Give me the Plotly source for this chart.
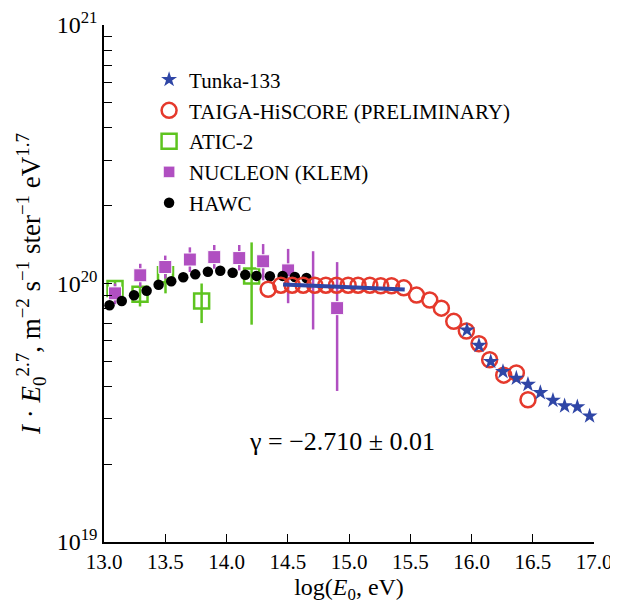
import plotly.graph_objects as go
import math

# ---------------- data ----------------
tunka_x = [15.963, 16.061, 16.157, 16.257, 16.366, 16.461, 16.562, 16.665, 16.760, 16.864, 16.964]
tunka_y = [6.60e19, 5.76e19, 4.99e19, 4.56e19, 4.30e19, 4.07e19, 3.78e19, 3.53e19, 3.36e19, 3.33e19, 3.07e19]

taiga_x = [14.340, 14.444, 14.536, 14.626, 14.721, 14.811, 14.898, 14.993, 15.074, 15.170, 15.259,
           15.347, 15.447, 15.551, 15.659, 15.754, 15.855, 15.958, 16.061, 16.148, 16.263, 16.366, 16.461]
taiga_y = [9.50e19, 9.85e19, 9.85e19, 9.85e19, 9.85e19, 9.85e19, 9.85e19, 9.85e19, 9.85e19, 9.85e19, 9.80e19,
           9.80e19, 9.62e19, 9.02e19, 8.63e19, 8.03e19, 7.14e19, 6.55e19, 5.85e19, 5.07e19, 4.42e19, 4.51e19, 3.55e19]

atic_x = [13.090, 13.294, 13.502, 13.797, 14.205]
atic_y = [9.57e19, 9.08e19, 1.082e20, 8.56e19, 1.07e20]
atic_hi = [1.015e20, 9.6e19, 1.158e20, 1.0e20, 1.442e20]
atic_lo = [9.0e19, 8.15e19, 9.16e19, 7.03e19, 6.93e19]

nucleon_x = [13.090, 13.296, 13.500, 13.701, 13.900, 14.104, 14.299, 14.503, 14.707, 14.903]
nucleon_y = [9.16e19, 1.076e20, 1.158e20, 1.238e20, 1.265e20, 1.254e20, 1.219e20, 1.124e20, 9.85e19, 8.03e19]
nucleon_hi = [1.0e20, 1.192e20, 1.282e20, 1.380e20, 1.409e20, 1.409e20, 1.421e20, 1.361e20, 1.333e20, 1.21e20]
nucleon_lo = [8.31e19, 9.71e19, 1.045e20, 1.108e20, 1.141e20, 1.124e20, 1.029e20, 8.39e19, 6.64e19, 3.84e19]
nucleon_marker_visible = [1, 1, 1, 1, 1, 1, 1, 1, 0, 1]   # point at 14.7 is hidden behind TAIGA circles

hawc_x = [13.045, 13.145, 13.245, 13.348, 13.446, 13.549, 13.647, 13.745, 13.848, 13.949, 14.050,
          14.153, 14.245, 14.354, 14.458, 14.558, 14.653]
hawc_y = [8.24e19, 8.56e19, 9.0e19, 9.38e19, 9.89e19, 1.02e20, 1.057e20, 1.085e20, 1.11e20, 1.12e20, 1.10e20,
          1.08e20, 1.07e20, 1.066e20, 1.07e20, 1.06e20, 1.05e20]

fit_x = [14.462, 15.455]
fit_y = [9.91e19, 9.48e19]

x_ticks = [13.0, 13.5, 14.0, 14.5, 15.0, 15.5, 16.0, 16.5, 17.0]
gamma_text = "γ = −2.710 ± 0.01"

# ---------------- style ----------------
FONT = "Liberation Serif"
C_TUNKA = "#2f46a6"
C_TAIGA = "#e5392c"
C_ATIC = "#5ec41f"
C_NUC = "#b04fc1"

fig = go.Figure()

fig.add_trace(go.Scatter(
    x=atic_x, y=atic_y, mode="markers", name="ATIC-2", legendrank=3, legendgroup="c",
    marker=dict(symbol="square-open", size=15, color=C_ATIC, line=dict(width=2.5, color=C_ATIC)),
    error_y=dict(type="data", symmetric=False,
                 array=[h - v for h, v in zip(atic_hi, atic_y)],
                 arrayminus=[v - l for l, v in zip(atic_lo, atic_y)],
                 color=C_ATIC, thickness=2.5, width=0),
))

fig.add_trace(go.Scatter(
    x=nucleon_x, y=nucleon_y, mode="markers", name="NUCLEON (KLEM)", legendrank=4, legendgroup="d",
    marker=dict(symbol="square", size=[13 * v for v in nucleon_marker_visible], color=C_NUC, opacity=1),
    error_y=dict(type="data", symmetric=False,
                 array=[h - v for h, v in zip(nucleon_hi, nucleon_y)],
                 arrayminus=[v - l for l, v in zip(nucleon_lo, nucleon_y)],
                 color=C_NUC, thickness=2.5, width=0),
))

fig.add_trace(go.Scatter(
    x=hawc_x, y=hawc_y, mode="markers", name="HAWC", legendrank=5, legendgroup="e",
    marker=dict(symbol="circle", size=10.5, color="black"),
))

fig.add_trace(go.Scatter(
    x=taiga_x, y=taiga_y, mode="markers", name="TAIGA-HiSCORE (PRELIMINARY)", legendrank=2, legendgroup="b",
    marker=dict(symbol="circle-open", size=15, color=C_TAIGA, line=dict(width=2.5, color=C_TAIGA)),
))

fig.add_trace(go.Scatter(
    x=fit_x, y=fit_y, mode="lines", showlegend=False,
    line=dict(color=C_TUNKA, width=4),
))

fig.add_trace(go.Scatter(
    x=tunka_x, y=tunka_y, mode="markers", name="Tunka-133", legendrank=1, legendgroup="a",
    marker=dict(symbol="star", size=12, color=C_TUNKA), cliponaxis=False,
))

y_vals, y_text = [], []
for d in [19, 20]:
    for k in range(1, 10):
        y_vals.append(float(k) * 10.0 ** d)
        y_text.append(f"10<sup>{d}</sup>" if k == 1 else "")
y_vals.append(1e21)
y_text.append("10<sup>21</sup>")

fig.add_annotation(x=14.94, y=math.log10(2.45e19), text=gamma_text, showarrow=False,
                   font=dict(family=FONT, size=26, color="black"))

# page body adds an 8 px margin; the figure is sized/margined to compensate
fig.update_layout(
    width=610, height=602,
    margin=dict(l=96, r=23.6, t=17, b=68),
    paper_bgcolor="white", plot_bgcolor="white",
    font=dict(family=FONT, size=21, color="black"),
    showlegend=True,
    legend=dict(x=0.092, y=0.9335, xanchor="left", yanchor="top", bgcolor="rgba(0,0,0,0)",
                font=dict(family=FONT, size=21, color="black"), tracegroupgap=0.5, itemsizing="trace"),
    xaxis=dict(range=[13, 17], tickvals=x_ticks, ticktext=[f"{v:.1f}" for v in x_ticks],
               ticks="inside", ticklen=8, tickwidth=1.2, tickcolor="black", automargin=False,
               tickfont=dict(size=21), ticklabeloverflow="allow",
               showline=True, linecolor="black", linewidth=1.5, showgrid=False, zeroline=False,
               title=dict(text="log(<i>E</i><sub>0</sub>, eV)", font=dict(size=24), standoff=2)),
    yaxis=dict(type="log", range=[19, 21], tickvals=y_vals, ticktext=y_text,
               ticks="inside", ticklen=8, tickwidth=1.2, tickcolor="black", automargin=False,
               tickfont=dict(size=24), ticklabeloverflow="allow",
               showline=True, linecolor="black", linewidth=1.5, showgrid=False, zeroline=False,
               title=dict(text="<i>I</i> · <i>E</i><sub>0</sub><sup>2.7</sup>, m<sup>−2</sup> s<sup>−1</sup> ster<sup>−1</sup> eV<sup>1.7</sup>",
                          font=dict(size=27), standoff=8)),
)

fig.write_html("out.html")
